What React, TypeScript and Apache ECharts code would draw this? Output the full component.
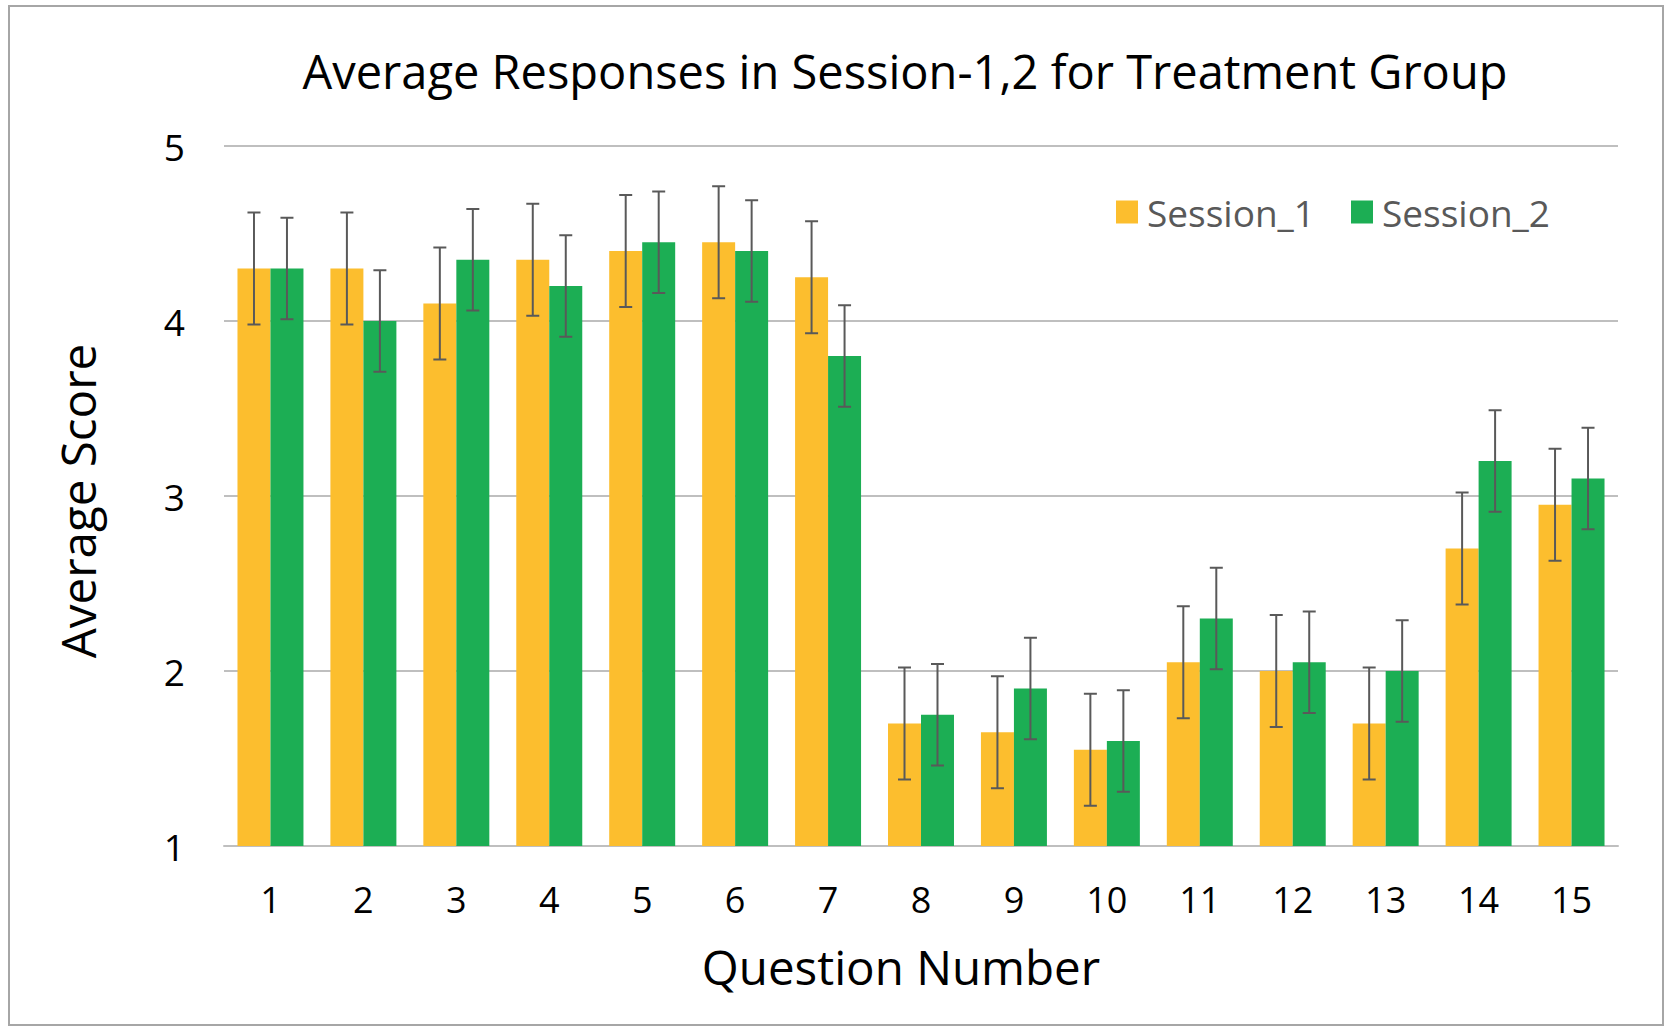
import React, { useEffect, useRef } from "react";
import * as echarts from "echarts";

const questions = ["1", "2", "3", "4", "5", "6", "7", "8", "9", "10", "11", "12", "13", "14", "15"];
const session1 = [4.3, 4.3, 4.1, 4.35, 4.4, 4.45, 4.25, 1.7, 1.65, 1.55, 2.05, 2.0, 1.7, 2.7, 2.95];
const session2 = [4.3, 4.0, 4.35, 4.2, 4.45, 4.4, 3.8, 1.75, 1.9, 1.6, 2.3, 2.05, 2.0, 3.2, 3.1];
const err1 = [0.32, 0.32, 0.32, 0.32, 0.32, 0.32, 0.32, 0.32, 0.32, 0.32, 0.32, 0.32, 0.32, 0.32, 0.32];
const err2 = [0.29, 0.29, 0.29, 0.29, 0.29, 0.29, 0.29, 0.29, 0.29, 0.29, 0.29, 0.29, 0.29, 0.29, 0.29];
const seriesNames = ["Session_1", "Session_2"];
const yTicks = { min: 1, max: 5, interval: 1 };

const FONT = "'Open Sans', sans-serif";
const ORANGE = "#FCBE2E";
const GREEN = "#1CAE54";
const ERR = "#595959";
const GRID = "#BFBFBF";
const BAR_FRACTION = 0.71;

function errorSeries(name: string, values: number[], errs: number[], side: number) {
  return {
    type: "custom",
    name: name + "_err",
    z: 10,
    silent: true,
    data: values.map((v, i) => [i, v, errs[i]]),
    renderItem: (params: any, api: any) => {
      const idx = api.value(0);
      const v = api.value(1);
      const e = api.value(2);
      const band = api.size([1, 0])[0];
      const barW = (band * BAR_FRACTION) / 2;
      const hi = api.coord([idx, v + e]);
      const lo = api.coord([idx, v - e]);
      const x = hi[0] + side * barW / 2;
      const cap = 6.5;
      const style = { stroke: ERR, lineWidth: 2 };
      return {
        type: "group",
        children: [
          { type: "line", shape: { x1: x, y1: hi[1], x2: x, y2: lo[1] }, style },
          { type: "line", shape: { x1: x - cap, y1: hi[1], x2: x + cap, y2: hi[1] }, style },
          { type: "line", shape: { x1: x - cap, y1: lo[1], x2: x + cap, y2: lo[1] }, style },
        ],
      };
    },
  };
}

export default function App() {
  const ref = useRef<HTMLDivElement>(null);
  useEffect(() => {
    if (!ref.current) return;
    const chart = echarts.init(ref.current, undefined, { renderer: "svg" });
    chart.setOption({
      animation: false,
      backgroundColor: "#ffffff",
      grid: { left: 224, right: 52, top: 146, bottom: 188, containLabel: false },
      legend: {
        data: seriesNames,
        left: 1111,
        top: 188,
        icon: "rect",
        itemWidth: 22,
        itemHeight: 23,
        itemGap: 36,
        textStyle: { fontFamily: FONT, fontSize: 37, color: "#595959", lineHeight: 38, padding: [0, 0, 0, 4] },
      },
      xAxis: {
        type: "category",
        data: questions,
        axisTick: { show: false },
        axisLine: { show: true, lineStyle: { color: GRID, width: 2 } },
        axisLabel: { fontFamily: FONT, fontSize: 36, color: "#000", margin: 53, verticalAlign: "middle" },
      },
      yAxis: {
        type: "value",
        min: yTicks.min,
        max: yTicks.max,
        interval: yTicks.interval,
        axisLine: { show: false },
        axisTick: { show: false },
        splitLine: { show: true, lineStyle: { color: GRID, width: 2 } },
        axisLabel: { fontFamily: FONT, fontSize: 37, color: "#000", margin: 39 },
      },
      series: [
        { type: "bar", name: seriesNames[0], data: session1, itemStyle: { color: ORANGE }, barGap: "0%", barCategoryGap: "29%" },
        { type: "bar", name: seriesNames[1], data: session2, itemStyle: { color: GREEN }, barGap: "0%", barCategoryGap: "29%" },
        errorSeries(seriesNames[0], session1, err1, -1),
        errorSeries(seriesNames[1], session2, err2, 1),
      ],
      graphic: [
        { type: "rect", shape: { x: 9, y: 6, width: 1654, height: 1019 }, style: { fill: "none", stroke: "#A6A6A6", lineWidth: 2 }, silent: true },
        {
          type: "text", x: 905, y: 71,
          style: { text: "Average Responses in Session-1,2 for Treatment Group", fontFamily: FONT, fontSize: 47, fill: "#000", align: "center", verticalAlign: "middle" },
        },
        {
          type: "text", x: 77, y: 501, rotation: Math.PI / 2,
          style: { text: "Average Score", fontFamily: FONT, fontSize: 47.5, fill: "#000", align: "center", verticalAlign: "middle" },
        },
        {
          type: "text", x: 901, y: 966,
          style: { text: "Question Number", fontFamily: FONT, fontSize: 47.5, fill: "#000", align: "center", verticalAlign: "middle" },
        },
      ],
    });
    return () => chart.dispose();
  }, []);
  return <div ref={ref} style={{ position: "fixed", left: 0, top: 0, width: 1670, height: 1034 }} />;
}
